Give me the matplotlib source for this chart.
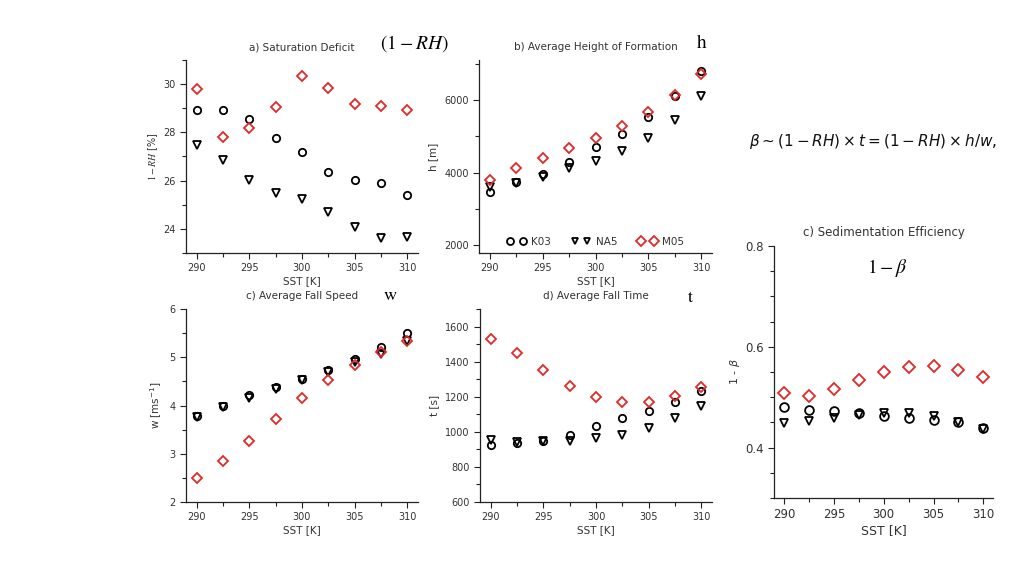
import matplotlib
matplotlib.use("Agg")
import matplotlib.pyplot as plt
from matplotlib.ticker import MultipleLocator

sst = [290, 292.5, 295, 297.5, 300, 302.5, 305, 307.5, 310]

# a) Saturation deficit 1-RH [%]
rh_k03 = [28.92, 28.92, 28.56, 27.77, 27.19, 26.37, 26.01, 25.91, 25.40]
rh_na5 = [27.46, 26.84, 26.01, 25.48, 25.25, 24.71, 24.07, 23.64, 23.65]
rh_m05 = [29.81, 27.82, 28.17, 29.04, 30.32, 29.86, 29.18, 29.09, 28.93]

# b) Average height of formation h [m]
h_k03 = [3480, 3738, 3977, 4299, 4694, 5071, 5540, 6120, 6791]
h_na5 = [3609, 3729, 3885, 4124, 4326, 4602, 4961, 5448, 6110]
h_m05 = [3811, 4133, 4409, 4685, 4961, 5292, 5660, 6129, 6717]

# c) Average fall speed w [m/s]
w_k03 = [3.79, 3.99, 4.21, 4.39, 4.55, 4.73, 4.96, 5.22, 5.51]
w_na5 = [3.76, 3.97, 4.15, 4.35, 4.52, 4.70, 4.90, 5.06, 5.33]
w_m05 = [2.50, 2.84, 3.27, 3.72, 4.15, 4.53, 4.85, 5.10, 5.34]

# d) Average fall time t [s]
t_k03 = [922, 935, 947, 981, 1034, 1076, 1120, 1168, 1230]
t_na5 = [953, 941, 945, 950, 964, 983, 1023, 1078, 1150]
t_m05 = [1530, 1450, 1352, 1261, 1196, 1168, 1170, 1202, 1255]

# e) Sedimentation efficiency 1-beta
b_k03 = [0.481, 0.475, 0.472, 0.469, 0.462, 0.458, 0.455, 0.450, 0.438]
b_na5 = [0.449, 0.453, 0.459, 0.465, 0.469, 0.469, 0.462, 0.450, 0.437]
b_m05 = [0.509, 0.503, 0.516, 0.534, 0.551, 0.560, 0.561, 0.553, 0.540]

labels = ["K03", "NA5", "M05"]
RED = "#e02a2a"
TXT = "#333333"

fig = plt.figure(figsize=(10.24, 5.76), dpi=100)
fig.patch.set_facecolor("white")


def style(ax, fs):
    for s in ["top", "right"]:
        ax.spines[s].set_visible(False)
    for s in ["left", "bottom"]:
        ax.spines[s].set_color("#222222")
        ax.spines[s].set_linewidth(0.9)
    ax.tick_params(which="both", direction="out", colors="#222222",
                   labelcolor=TXT, labelsize=fs, width=0.8)
    ax.tick_params(which="major", length=4)
    ax.tick_params(which="minor", length=3)
    ax.set_xlim(289, 311)
    ax.xaxis.set_major_locator(MultipleLocator(5))
    ax.xaxis.set_minor_locator(MultipleLocator(2.5))


def draw(ax, k, n, m, ms=5.3):
    ax.plot(sst, k, ls="none", marker="o", ms=ms, mfc="none", mec="black",
            mew=1.3, label=labels[0])
    ax.plot(sst, n, ls="none", marker="v", ms=ms, mfc="none", mec="black",
            mew=1.3, label=labels[1])
    ax.plot(sst, m, ls="none", marker="D", ms=ms - 0.4, mfc="none", mec=RED,
            mew=1.3, label=labels[2])


fs = 7
# a
ax = fig.add_axes([0.1816, 0.5608, 0.2266, 0.335])
style(ax, fs)
draw(ax, rh_k03, rh_na5, rh_m05)
ax.set_ylim(23, 31)
ax.yaxis.set_major_locator(MultipleLocator(2))
ax.yaxis.set_minor_locator(MultipleLocator(1))
ax.set_title("a) Saturation Deficit", fontsize=7.5, color=TXT, pad=7)
ax.set_xlabel("SST [K]", fontsize=7.5, color=TXT, labelpad=2)
ax.set_ylabel(r"$1-RH$ [%]", fontsize=7, color=TXT, math_fontfamily="stix",
              labelpad=2)

# b
ax = fig.add_axes([0.4678, 0.5608, 0.2275, 0.335])
style(ax, fs)
draw(ax, h_k03, h_na5, h_m05)
ax.set_ylim(1790, 7100)
ax.yaxis.set_major_locator(MultipleLocator(2000))
ax.yaxis.set_minor_locator(MultipleLocator(1000))
ax.set_title("b) Average Height of Formation", fontsize=7.5, color=TXT, pad=7)
ax.set_xlabel("SST [K]", fontsize=7.5, color=TXT, labelpad=2)
ax.set_ylabel("h [m]", fontsize=7.5, color=TXT)
leg = ax.legend(loc="lower center", ncol=3, numpoints=2, frameon=False,
                fontsize=7.5, handlelength=1.8, columnspacing=2.0,
                handletextpad=0.5, borderaxespad=0.2, markerscale=0.95)
for t in leg.get_texts():
    t.set_color(TXT)

# c
ax = fig.add_axes([0.1816, 0.1285, 0.2266, 0.335])
style(ax, fs)
draw(ax, w_k03, w_na5, w_m05)
ax.set_ylim(2, 6)
ax.yaxis.set_major_locator(MultipleLocator(1))
ax.yaxis.set_minor_locator(MultipleLocator(0.5))
ax.set_title("c) Average Fall Speed", fontsize=7.5, color=TXT, pad=7)
ax.set_xlabel("SST [K]", fontsize=7.5, color=TXT, labelpad=2)
ax.set_ylabel(r"w [ms$^{-1}$]", fontsize=7.5, color=TXT)

# d
ax = fig.add_axes([0.46875, 0.1285, 0.2266, 0.335])
style(ax, fs)
draw(ax, t_k03, t_na5, t_m05)
ax.set_ylim(600, 1700)
ax.yaxis.set_major_locator(MultipleLocator(200))
ax.yaxis.set_minor_locator(MultipleLocator(100))
ax.set_title("d) Average Fall Time", fontsize=7.5, color=TXT, pad=7)
ax.set_xlabel("SST [K]", fontsize=7.5, color=TXT, labelpad=2)
ax.set_ylabel("t [s]", fontsize=7.5, color=TXT)

# e
ax = fig.add_axes([0.756, 0.1354, 0.214, 0.4375])
style(ax, 8.5)
draw(ax, b_k03, b_na5, b_m05, ms=6.3)
ax.set_ylim(0.3, 0.8)
ax.yaxis.set_major_locator(MultipleLocator(0.2))
ax.yaxis.set_minor_locator(MultipleLocator(0.05))
ax.set_title("c) Sedimentation Efficiency", fontsize=8.5, color=TXT, pad=7)
ax.set_xlabel("SST [K]", fontsize=9, color=TXT, labelpad=2)
ax.set_ylabel(r"1 - $\beta$", fontsize=8, color=TXT, labelpad=2)

# annotations
fig.text(0.405, 0.924, r"$(1-RH)$", fontsize=14, ha="center", va="center",
         math_fontfamily="stix")
fig.text(0.6855, 0.927, r"$\mathrm{h}$", fontsize=14, ha="center", va="center",
         math_fontfamily="stix")
fig.text(0.381, 0.488, r"$\mathrm{w}$", fontsize=13, ha="center", va="center",
         math_fontfamily="stix")
fig.text(0.674, 0.484, r"$\mathrm{t}$", fontsize=13, ha="center", va="center",
         math_fontfamily="stix")
fig.text(0.867, 0.535, r"$1-\beta$", fontsize=14, ha="center", va="center",
         math_fontfamily="stix")
fig.text(0.8525, 0.755, r"$\beta \sim (1-RH)\times t=(1-RH)\times h/w,$",
         fontsize=11, ha="center", va="center", math_fontfamily="dejavusans",
         color="#111111")

fig.savefig("out.png", dpi=100, facecolor="white")
